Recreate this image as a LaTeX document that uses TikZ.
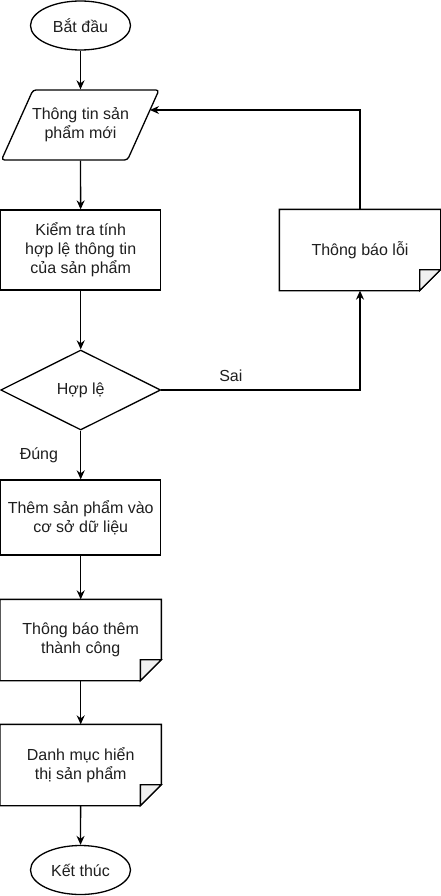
\documentclass[tikz,border=0pt]{standalone}
\usepackage{fontspec}
\setmainfont{Liberation Sans}
\usetikzlibrary{arrows.meta,shapes.geometric,calc}
\definecolor{txt}{RGB}{30,30,30}
\definecolor{foldc}{RGB}{241,241,241}
\newcommand\mynote[3]{%
  \node[minimum width=160pt,minimum height=80pt] (#1) at (#2) {#3};
  \draw (#1.north west) -- (#1.north east) -- ([yshift=21pt]#1.south east) -- ([xshift=-21pt]#1.south east) -- (#1.south west) -- cycle;
  \filldraw[fill=foldc] ([xshift=-21pt]#1.south east) -- ([xshift=-21pt,yshift=21pt]#1.south east) -- ([yshift=21pt]#1.south east) -- cycle;}
\begin{document}
\begin{tikzpicture}[x=1pt,y=-1pt,line width=1.3pt,
  every node/.style={font=\fontsize{16}{19.2}\selectfont,text=txt,align=center,inner sep=0pt},
  arr/.style={-{Stealth[length=9pt,width=8pt]},line width=1.3pt},
  box/.style={draw,minimum width=160pt,minimum height=80pt},
  term/.style={draw,ellipse,minimum width=100pt,minimum height=49pt},
  decide/.style={draw,diamond,aspect=2,minimum width=160pt,minimum height=80pt}]
\useasboundingbox (0,0) rectangle (441,896);

\node[term] (start) at (80.5,25.5) {Bắt đầu};

% parallelogram
\draw[rounded corners=3pt] (1.5,160) -- (33,90) -- (159,90) -- (127.5,160) -- cycle;
\node[minimum width=100pt,minimum height=70pt] (para) at (80.5,125) {Thông tin sản\\phẩm mới};
\coordinate (pr) at (150,110);

\node[box] (check) at (80.7,250) {Kiểm tra tính\\hợp lệ thông tin\\của sản phẩm};
\mynote{err}{360,250}{Thông báo lỗi}

\node[decide] (valid) at (80.7,390) {Hợp lệ};

\node[box,minimum height=75pt] (add) at (80.7,517.5) {Thêm sản phẩm vào\\cơ sở dữ liệu};
\mynote{note1}{80.7,640}{Thông báo thêm\\thành công}
\mynote{note2}{80.7,765}{Danh mục hiển\\thị sản phẩm}

\node[term] (end) at (80.5,870) {Kết thúc};

\draw[arr] (start) -- (para);
\draw[arr] (para) -- (check);
\draw[arr] (check) -- (valid);
\draw[arr] (valid) -- node[left=22pt] {Đúng} (add);
\draw[arr] (valid.east) -| node[pos=0.175,above=8pt] {Sai} (err.south);
\draw[arr] (err.north) |- (pr);
\draw[arr] (add) -- (note1);
\draw[arr] (note1) -- (note2);
\draw[arr] (note2) -- (end);
\end{tikzpicture}
\end{document}
